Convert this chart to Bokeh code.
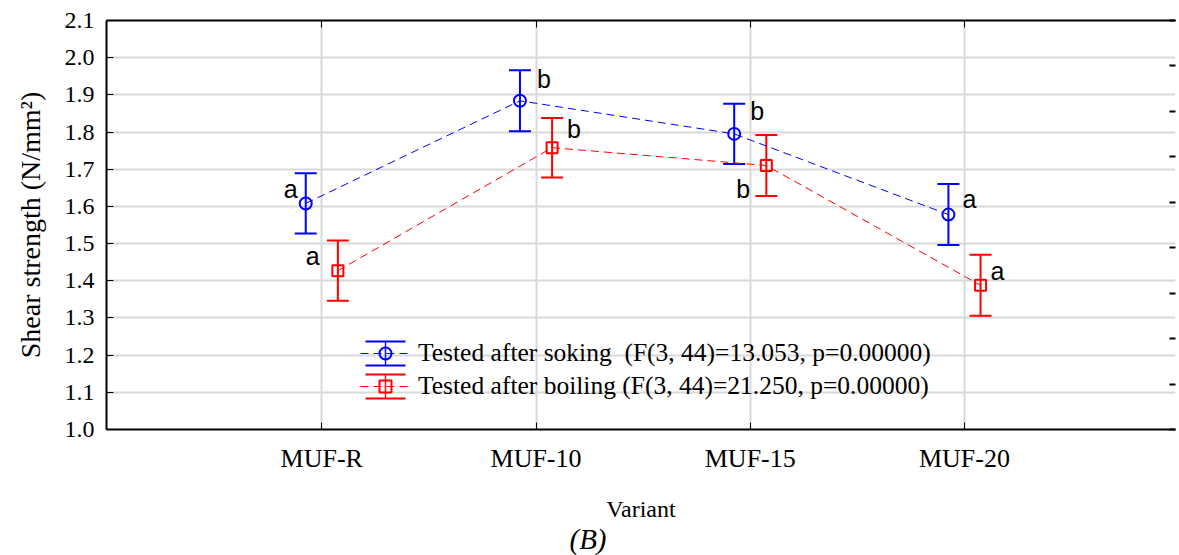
import numpy as np
from bokeh.plotting import figure
from bokeh.models import (ColumnDataSource, Whisker, TeeHead, Range1d, LinearAxis,
                          FixedTicker, Legend, LegendItem, Title, NumeralTickFormatter,
                          CustomLabelingPolicy)
from bokeh.core.properties import value
from bokeh.embed import file_html
from bokeh.resources import INLINE

# ---------------- data ----------------
categories = ["MUF-R", "MUF-10", "MUF-15", "MUF-20"]
soaking_mean = [1.608, 1.884, 1.795, 1.578]
soaking_err = [0.081, 0.082, 0.081, 0.082]
boiling_mean = [1.427, 1.758, 1.710, 1.388]
boiling_err = [0.081, 0.080, 0.082, 0.082]
soaking_letters = ["a", "b", "b", "a"]
boiling_letters = ["a", "b", "b", "a"]
y_ticks = [1.0, 1.1, 1.2, 1.3, 1.4, 1.5, 1.6, 1.7, 1.8, 1.9, 2.0, 2.1]
soaking_label = "Tested after soking  (F(3, 44)=13.053, p=0.00000)"
boiling_label = "Tested after boiling (F(3, 44)=21.250, p=0.00000)"

# ---------------- layout / style ----------------
DODGE = 0.075
BLUE = "#0000ff"
RED = "#ff0000"
SERIF = "Liberation Serif"
SANS = "Liberation Sans"
# pixel offsets of the significance letters relative to their point
soak_dx = [-22, 17, 16, 14]
soak_dy = [-14, -22, -23, -16]
boil_dx = [-32, 15, -30, 10]
boil_dy = [-15, -19, 23, -14]

idx = np.arange(len(categories))


def make_source(mean, err, letters, shift, dx, dy):
    mean = np.array(mean)
    err = np.array(err)
    return ColumnDataSource(dict(
        x=idx + shift, mean=mean, upper=mean + err, lower=mean - err,
        letter=letters, dx=dx, dy=dy))


src_s = make_source(soaking_mean, soaking_err, soaking_letters, -DODGE, soak_dx, soak_dy)
src_b = make_source(boiling_mean, boiling_err, boiling_letters, DODGE, boil_dx, boil_dy)

p = figure(width=1179, height=555,
           x_range=Range1d(-1.005, 3.985), y_range=Range1d(1.0, 2.1),
           output_backend="svg", toolbar_location=None,
           min_border_left=106, min_border_right=0, min_border_top=20,
           min_border_bottom=126, outline_line_color=None,
           background_fill_color="white", border_fill_color="white")

# grid
p.xgrid.ticker = FixedTicker(ticks=list(idx))
p.ygrid.ticker = FixedTicker(ticks=y_ticks)
for g in (p.xgrid[0], p.ygrid[0]):
    g.grid_line_color = "#d9d9d9"
    g.grid_line_width = 2

# bottom axis
xa = p.xaxis[0]
xa.ticker = FixedTicker(ticks=list(idx))
xa.major_label_overrides = {int(i): c for i, c in zip(idx, categories)}
xa.axis_label = "Variant"
# left axis
ya = p.yaxis[0]
ya.ticker = FixedTicker(ticks=y_ticks)
ya.formatter = NumeralTickFormatter(format="0.0")
ya.axis_label = "Shear strength (N/mm\u00b2)"

for ax, fs, afs in ((xa, "26px", "24px"), (ya, "24px", "28px")):
    ax.major_label_text_font = SERIF
    ax.major_label_text_font_size = fs
    ax.major_label_text_color = "black"
    ax.axis_label_text_font = SERIF
    ax.axis_label_text_font_size = afs
    ax.axis_label_text_font_style = "normal"
    ax.axis_label_text_color = "black"
    ax.axis_line_width = 2
    ax.axis_line_color = "black"
    ax.major_tick_in = 7
    ax.major_tick_out = 0
    ax.major_tick_line_color = "black"
    ax.minor_tick_line_color = None
xa.major_label_standoff = 14
xa.axis_label_standoff = 20
ya.major_label_standoff = 12
ya.axis_label_standoff = 16

# top axis (frame border with ticks, no labels)
top = LinearAxis(ticker=FixedTicker(ticks=list(idx)),
                 major_label_policy=CustomLabelingPolicy(code="return []"),
                 major_label_text_font_size="1px", major_label_standoff=0,
                 major_tick_in=7, major_tick_out=0, axis_line_width=2,
                 minor_tick_line_color=None)
p.add_layout(top, "above")

# right axis (ticks only)
p.extra_y_ranges = {"r": Range1d(0, 9)}
right = LinearAxis(y_range_name="r", ticker=FixedTicker(ticks=list(range(10))),
                   major_label_policy=CustomLabelingPolicy(code="return []"),
                   major_label_text_font_size="1px", major_label_standoff=0,
                   major_tick_in=6, major_tick_out=0, major_tick_line_width=2,
                   axis_line_color=None, minor_tick_line_color=None)
p.add_layout(right, "right")

# series
items = []
for src, color, marker, msize, label in ((src_s, BLUE, "circle", 12, soaking_label),
                                         (src_b, RED, "square", 11, boiling_label)):
    lr = p.line("x", "mean", source=src, line_color=color, line_width=1, line_dash="8 5")
    w = Whisker(base="x", upper="upper", lower="lower", source=src,
                line_color=color, line_width=2,
                upper_head=TeeHead(size=22, line_color=color, line_width=2),
                lower_head=TeeHead(size=22, line_color=color, line_width=2))
    p.add_layout(w)
    mr = p.scatter("x", "mean", source=src, marker=marker, size=msize,
                   fill_color=None, line_color=color, line_width=2)
    p.text("x", "mean", text="letter", source=src, x_offset="dx", y_offset="dy",
           text_font=value(SANS), text_font_size="25px", text_color="black",
           text_align="left", text_baseline="alphabetic")
    # legend-only icon parts for the error bar (caps and stem); no data drawn
    caps = p.quad(left=[np.nan], right=[np.nan], bottom=[np.nan], top=[np.nan],
                  fill_color=None, line_color=color, line_width=2, line_dash="40 24")
    stem = p.ellipse(x=[np.nan], y=[np.nan], width=1, height=40,
                     width_units="screen", height_units="screen",
                     fill_color=None, line_color=color, line_width=1)
    items.append(LegendItem(label=label, renderers=[caps, stem, lr, mr]))

legend = Legend(items=items, location=(254, 27), glyph_width=50, glyph_height=30,
                label_height=33, label_standoff=8, padding=0, margin=0, spacing=0,
                border_line_color=None, background_fill_alpha=0,
                label_text_font=SERIF, label_text_font_size="25.5px",
                label_text_color="black")
p.add_layout(legend)

cap = Title(text="(B)", align="left", offset=463, text_font=SERIF,
            text_font_style="italic", text_font_size="29px", text_color="black",
            standoff=-8)
p.add_layout(cap, "below")

open("out.html", "w").write(file_html(p, INLINE))
